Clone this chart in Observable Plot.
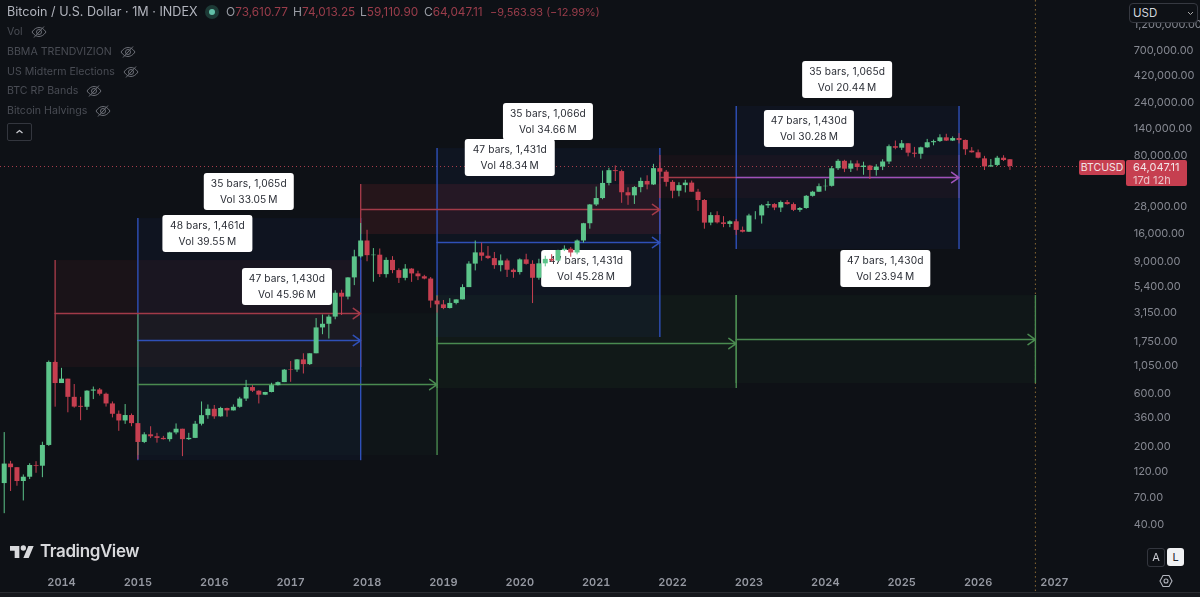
<!DOCTYPE html>
<html><head><meta charset="utf-8">
<script src="https://cdn.jsdelivr.net/npm/d3@7"></script>
<script src="https://cdn.jsdelivr.net/npm/@observablehq/plot@0.6"></script>
<style>
html,body{margin:0;padding:0;background:#0e1116;width:1200px;height:597px;overflow:hidden}
body{position:relative;font-family:Inter,"Noto Sans",sans-serif}
#chart svg{display:block;background:transparent}
.o{position:absolute;white-space:nowrap;line-height:1}
.leg{color:#494c54;font-size:10.600px;left:7px;display:flex;align-items:center;gap:8px;height:14px}
.v{color:#9a3d4b;font-size:11.800px;top:6px}
.v b{font-weight:400;color:#9a9da5;font-size:12px}
</style></head><body>
<div id="chart"></div>
<div id="over"></div>
<script>
// Monthly candles, first candle = April 2013 (months counted from January 2014)
const firstMonth = -9;
const opens  = [93,139,129,97,106,135,133,204,1129,
 731,800,550,457,448,625,640,586,480,388,338,378,
 320,217,254,244,236,230,264,285,230,236,316,377,
 430,368,437,416,448,531,673,624,575,608,700,745,
 975,965,1190,1080,1350,2300,2480,2875,4700,4340,6450,9950,
 13800,10200,10300,6900,9250,7500,6390,7730,7000,6600,6300,4000,
 3700,3430,3810,4100,5280,8570,10800,10080,9600,8300,9150,7550,
 7200,9350,8530,6400,8620,9450,9140,11350,11650,10780,13800,19700,
 29000,33100,45200,58800,57700,37300,35000,41500,47100,43800,61300,57000,
 46200,38500,43200,45500,37700,31800,19950,23300,20050,19420,20500,17170,
 16540,23130,23140,28480,29250,27220,30470,29230,25940,26960,34650,37720,
 42280,42580,61180,71300,60640,67530,62780,64620,58970,63330,70300,96400,
 93400,102400,84300,82500,94200,104600,107100,115700,108200,114000,109600,88000,
 85000,75000,63500,65500,76000,73610.77];
const highs  = [266,147,129,111,140,146,218,1163,1163,
 1000,800,716,550,630,680,660,600,500,415,474,390,
 320,265,300,262,246,268,318,285,262,335,500,470,
 465,448,440,470,550,780,700,630,610,735,755,975,
 1150,1200,1350,1350,2790,3000,2990,4950,5000,6470,11400,19800,
 17200,11800,11700,9750,10000,7780,8480,7800,7400,6800,6500,4400,
 4050,4200,4100,5600,9000,13800,13200,12300,10900,10350,9500,7750,
 9550,10500,9180,9470,10070,10400,11400,12480,12070,14100,19850,29300,
 41950,58300,61800,64850,59500,41300,42400,50500,52900,67000,69000,59050,
 47900,45800,48200,47450,40000,32400,24700,25200,22800,20950,21480,18400,
 23950,25250,29200,31000,29800,31450,31800,30200,27500,35200,38400,44700,
 48970,64000,73800,72800,71950,71900,70000,65600,66500,73600,99800,108300,
 109500,102500,95000,95500,112000,110400,123200,124500,117900,126200,110600,94600,
 90000,79000,74000,79000,80000,74013.25];
const lows   = [50,79,88,65,101,115,105,200,449,
 731,400,440,340,420,525,565,450,360,273,315,300,
 152,212,235,214,228,219,254,162,226,235,305,350,
 350,365,365,415,440,505,608,480,570,603,695,745,
 750,920,890,1060,1350,2000,1830,2720,2970,4100,5500,9700,
 9000,5900,6500,6430,7030,5750,6070,5880,6100,6200,3450,3120,
 3350,3400,3700,4100,5300,7450,9100,9400,7700,7300,6500,6400,
 6850,8400,3800,6150,8100,8900,8950,11100,9880,10370,13200,17600,
 28100,32300,43000,47000,30000,28800,29300,37300,39600,43300,53500,42000,
 32950,34300,37200,37700,25400,17600,18900,19600,18150,18150,15480,16300,
 16500,21350,19550,26950,25800,24800,28850,25300,24900,26550,34100,37600,
 38500,41900,59000,56500,56600,58400,53500,49000,52550,58900,66800,90500,
 89200,78200,76600,74400,93300,98200,105100,107300,107200,102000,80600,84400,
 75000,59000,63000,64000,71000,59110.9];
const closes = [139,129,97,106,135,133,204,1129,731,
 800,550,450,448,625,640,586,480,388,338,378,320,
 217,254,244,236,230,264,285,230,236,316,377,430,
 368,437,416,448,531,673,624,575,608,700,745,963,
 965,1190,1080,1350,2300,2480,2875,4700,4340,6450,9950,13800,
 10200,10300,6900,9250,7500,6390,7730,7000,6600,6300,4000,3700,
 3430,3810,4100,5280,8570,10800,10080,9600,8300,9150,7550,7200,
 9350,8530,6400,8620,9450,9140,11350,11650,10780,13800,19700,29000,
 33100,45200,58800,57700,37300,35000,41500,47100,43800,61300,57000,46200,
 38500,43200,45500,37700,31800,19950,23300,20050,19420,20500,17170,16540,
 23130,23140,28480,29250,27220,30470,29230,25940,26960,34650,37720,42280,
 42580,61180,71300,60640,67530,62780,64620,58970,63330,70300,96400,93400,
 102400,84300,82500,94200,104600,107100,115700,108200,114000,109600,90400,85000,
 76000,63500,65000,76000,72500,64047.11];

// Measured ranges (months counted from January 2014)
const rangeFrom   = [-1,12,12,47,59,59,94,106,106];
const rangeTo     = [47,47,59,94,94,106,141,141,153];
const rangeTop    = [9226,21930,3094,44200,92800,4486,80350,220700,4486];
const rangeBottom = [1016,149,165.6,15770,1887,659,33100,11570,731];
const rangeMid    = [3094,1774,716,26400,13370,1667,51050,51050,1811];
const rangeKind   = ["red","blue","green","red","blue","green","red","blue","green"];
const rangeBars   = [48,35,47,47,35,47,47,35,47];
const rangeDays   = [1461,1065,1430,1431,1066,1431,1430,1065,1430];
const rangeVol    = [39.55,33.05,45.96,48.34,34.66,45.28,30.28,20.44,23.94];

const yearTicks  = d3.range(2014,2028);
const priceTicks = [1200000,700000,420000,240000,140000,80000,28000,16000,9000,5400,3150,1750,1050,600,360,200,120,70,40];
const lastClose = 64047.11, cycleEnd = 153;

const lineColor = {red:"#a23a48",blue:"#2f50b8",green:"#4a8a50"};
const fillColor = {red:"#f23645",blue:"#2962ff",green:"#4caf50"};
const tint = [.055,.045,.03,.1,.05,.05,.045,.045,.04];

const candles = opens.map((o,i)=>({m:firstMonth+i,o,h:highs[i],l:lows[i],c:closes[i],up:closes[i]>=o}));
const ranges = rangeFrom.map((from,i)=>({from,to:rangeTo[i],top:rangeTop[i],bottom:rangeBottom[i],mid:rangeMid[i],kind:rangeKind[i],alpha:tint[i],
  l1:`${rangeBars[i]} bars, ${d3.format(",")(rangeDays[i])}d`,l2:`Vol ${rangeVol[i].toFixed(2)}\u2009M`}));
const edges = ranges.flatMap(r=>[{m:r.from,...r},{m:r.to,...r}]);
const col = d=>lineColor[d.kind];
const UP="#5cc48a",DOWN="#c63f50";

const labels = (index,{x,y})=>{
  const g=d3.create("svg:g");
  for(const r of ranges){
    const cx=(x(r.from)+x(r.to))/2, b=y(r.top)-8;
    g.append("rect").attr("x",cx-45).attr("y",b-37).attr("width",90).attr("height",37).attr("rx",3).attr("fill","#fff");
    g.append("text").attr("x",cx).attr("y",b-23).attr("text-anchor","middle").attr("font-size",10.2).attr("letter-spacing",.1).attr("fill","#2a2d35").text(r.l1);
    g.append("text").attr("x",cx).attr("y",b-7).attr("text-anchor","middle").attr("font-size",10.2).attr("letter-spacing",.1).attr("fill","#2a2d35").text(r.l2);
  }
  return g.node();
};
const arrowStyle = {x1:"from",x2:"to",y1:"mid",y2:"mid",stroke:col,strokeWidth:1.5,headLength:9,headAngle:70,bend:0};

const chart = Plot.plot({
  width:1200,height:597,marginLeft:0,marginTop:0,marginRight:72,marginBottom:27,
  style:{background:"transparent",fontFamily:"Inter, sans-serif"},
  x:{type:"linear",domain:[0,156],range:[61,1054]},
  y:{type:"log",domain:[40,700000],range:[524,50]},
  marks:[
    Plot.rect(ranges,{x1:"from",x2:"to",y1:"bottom",y2:"top",fill:d=>fillColor[d.kind],fillOpacity:"alpha"}),
    Plot.ruleX([cycleEnd],{y1:1.96e6,y2:8.9,stroke:"#8a6a35",strokeDasharray:"1.5,3"}),
    Plot.ruleY([lastClose],{stroke:"#a83d4c",strokeDasharray:"1,3"}),
    Plot.ruleX(edges,{x:"m",y1:"bottom",y2:"top",stroke:col,strokeWidth:1.4}),
    Plot.arrow(ranges.filter(r=>r.kind!=="blue"),arrowStyle),
    Plot.arrow(ranges.filter(r=>r.kind==="blue"),{...arrowStyle,mixBlendMode:"lighten"}),
    labels,
    Plot.ruleX(candles,{x:"m",y1:"l",y2:"h",stroke:d=>d.up?UP:DOWN,strokeWidth:1}),
    Plot.ruleX(candles,{x:"m",y1:"o",y2:"c",stroke:d=>d.up?UP:DOWN,strokeWidth:5}),
    Plot.axisX(yearTicks.map(v=>(v-2014)*12),{anchor:"bottom",tickSize:0,tickPadding:8,label:null,tickFormat:i=>String(2014+i/12),fontSize:11,fontWeight:600,fill:"#9598a1"}),
    Plot.text(priceTicks,{x:()=>167.65,y:d=>d,text:d3.format(",.2f"),textAnchor:"start",dx:5,fontSize:11,letterSpacing:.1,fill:"#858891"})
  ]
});
document.getElementById("chart").append(chart);

const eye=`<svg width="16" height="14" viewBox="0 0 16 14" fill="none" stroke="#6a6d75" stroke-width="1"><path d="M1 7c2-3 4.500-4.500 7-4.500S13 4 15 7c-2 3-4.500 4.500-7 4.500S3 10 1 7z"/><circle cx="8" cy="7" r="2.500"/><path d="M3 12.500 13 1.500"/></svg>`;
const legendNames=[["Vol",25],["BBMA TRENDVIZION",45],["US Midterm Elections",65],["BTC RP Bands",84],["Bitcoin Halvings",104]];
let h=`<div class="o" style="left:7px;top:6px;font-size:12.600px;color:#b2b5be">Bitcoin / U.S. Dollar · 1M · INDEX</div>
<div class="o" style="left:205px;top:5px;width:14px;height:14px;border-radius:7px;background:#1d3a36"></div>
<div class="o" style="left:209px;top:9px;width:6px;height:6px;border-radius:3px;background:#62c0a8"></div>
<div class="o v" style="left:226px"><b>O</b>73,610.77</div>
<div class="o v" style="left:293px"><b>H</b>74,013.25</div>
<div class="o v" style="left:360px"><b>L</b>59,110.90</div>
<div class="o v" style="left:424px"><b>C</b>64,047.11</div>
<div class="o v" style="left:490px;font-size:10.900px;top:7px">−9,563.93 (−12.99%)</div>`;
for(const [n,t] of legendNames) h+=`<div class="o leg" style="top:${t}px"><span>${n}</span>${eye}</div>`;
h+=`<div class="o" style="left:7px;top:123px;width:23px;height:16px;border:1px solid #33363e;border-radius:2px"><svg width="23" height="16" viewBox="0 0 23 16" fill="none" stroke="#c8cad0" stroke-width="1.300"><path d="M8.500 9l3-2.500 3 2.500"/></svg></div>
<div class="o" style="left:1129px;top:3px;width:69px;height:20px;background:#0e1116;border:1px solid #363941;border-radius:4px;box-sizing:border-box;color:#d1d4dc;font-size:11.500px;line-height:18px;padding-left:3px">USD<svg style="position:absolute;right:3px;top:7px" width="7" height="5" viewBox="0 0 7 5" fill="none" stroke="#aaa" stroke-width="1"><path d="M1 1l2.500 2.500L6 1"/></svg></div>
<div class="o" style="left:1079px;top:160px;width:46px;height:15px;background:#c63f50;border-radius:2px;color:#f2e4e6;font-size:10.500px;line-height:15px;text-align:center">BTCUSD</div>
<div class="o" style="left:1126px;top:160px;width:61px;height:26px;background:#c63f50;border-radius:2px;color:#f2e4e6;font-size:11px;line-height:13px;padding-left:7px;box-sizing:border-box;padding-top:1px">64,047.11<br><span style="opacity:.8">17d 12h</span></div>
<div class="o" style="left:1147px;top:548px;width:16px;height:17px;border:1px solid #33363e;border-radius:3px;color:#c8cad0;font-size:11px;line-height:17px;text-align:center">A</div>
<div class="o" style="left:1167px;top:548px;width:17px;height:18px;background:#f0f1f3;border-radius:3px;color:#20232a;font-size:11px;line-height:18px;text-align:center">L</div>
<svg class="o" style="left:1159px;top:574px" width="14" height="14" viewBox="0 0 14 14" fill="none" stroke="#b2b5be" stroke-width="1.100"><path d="M1 7l3-5.500h6L13 7l-3 5.500H4z"/><circle cx="7" cy="7" r="2"/></svg>
<svg class="o" style="left:10px;top:545px" width="24" height="14" viewBox="0 3 36 20" fill="#d8d9dc"><path d="M14 22H7V11H0V4h14v18zM28 22h-8l7.500-18h8L28 22z"/><circle cx="20" cy="7" r="4"/></svg>
<div class="o" style="left:40px;top:543px;font-size:17px;font-weight:600;color:#d8d9dc;letter-spacing:-.4px">TradingView</div>
<div class="o" style="left:0;top:592px;width:1200px;height:5px;background:#16181d;border-top:1px solid #2a2c31;box-sizing:border-box"></div>`;
document.getElementById("over").innerHTML=h;
</script></body></html>
